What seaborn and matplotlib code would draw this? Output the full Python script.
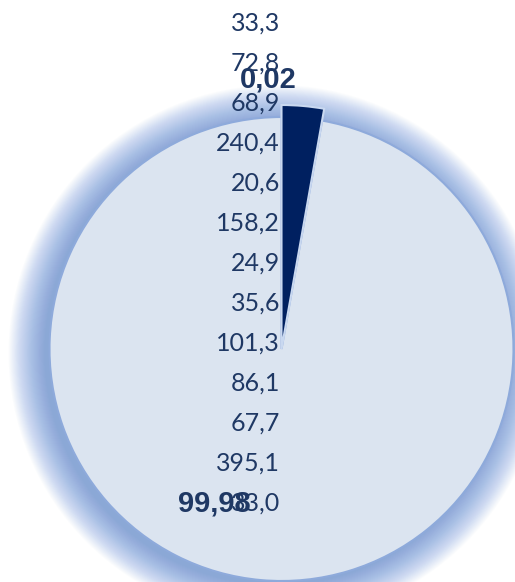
import matplotlib.pyplot as plt
from matplotlib.patches import Circle
import seaborn as sns
import numpy as np

# data
slice_labels = ["0,02", "99,98"]
slice_pct = [0.02, 99.98]
# visual share of the circle the slices take in the picture
slice_share = [2.8, 97.2]
slice_colors = ["#002060", "#dbe4f0"]
column_values = [33.3, 72.8, 68.9, 240.4, 20.6, 158.2, 24.9, 35.6,
                 101.3, 86.1, 67.7, 395.1, 33.0]

sns.set_theme(style="white")
plt.rcParams['font.family'] = ['Lato', 'DejaVu Sans']

fig = plt.figure(figsize=(5.15, 5.82), dpi=100)
ax = fig.add_axes([0, 0, 1, 1])

cx, cy, r = 281.5, 349, 232

# soft blue glow around the pie, a little stronger on the left
for rr in np.linspace(r + 36, r, 40):
    ax.add_patch(Circle((cx - 5, cy + 4), rr, color="#5585d4",
                        alpha=0.022, lw=0, zorder=1))

wedges, _ = ax.pie(slice_share, colors=slice_colors, startangle=270,
                   counterclock=True, center=(cx, cy), radius=r,
                   explode=[0.006, 0],
                   wedgeprops=dict(linewidth=1.5, edgecolor="#8eaadb"),
                   frame=True)
ax.set_xlim(0, 515)
ax.set_ylim(582, 0)
ax.set_aspect('equal')
ax.axis('off')
wedges[0].set_radius(244)
wedges[0].set_edgecolor("#c9d8f0")
wedges[0].set_zorder(4)
wedges[1].set_zorder(3)

# column of values running down the middle
for i, v in enumerate(column_values):
    ax.text(280, 23.5 + 40 * i, f"{v:.1f}".replace(".", ","), ha='right',
            va='center', fontsize=18, color="#1f3864", zorder=5)

# slice labels
ax.text(268, 79, f"{slice_pct[0]:.2f}".replace(".", ","), ha='center',
        va='center', fontsize=21, fontweight='bold', color="#1f3864",
        family=['Liberation Sans'], zorder=6)
ax.text(214, 503, f"{slice_pct[1]:.2f}".replace(".", ","), ha='center',
        va='center', fontsize=21, fontweight='bold', color="#1f3864",
        family=['Liberation Sans'], zorder=6)

fig.savefig("out.png", dpi=100)
